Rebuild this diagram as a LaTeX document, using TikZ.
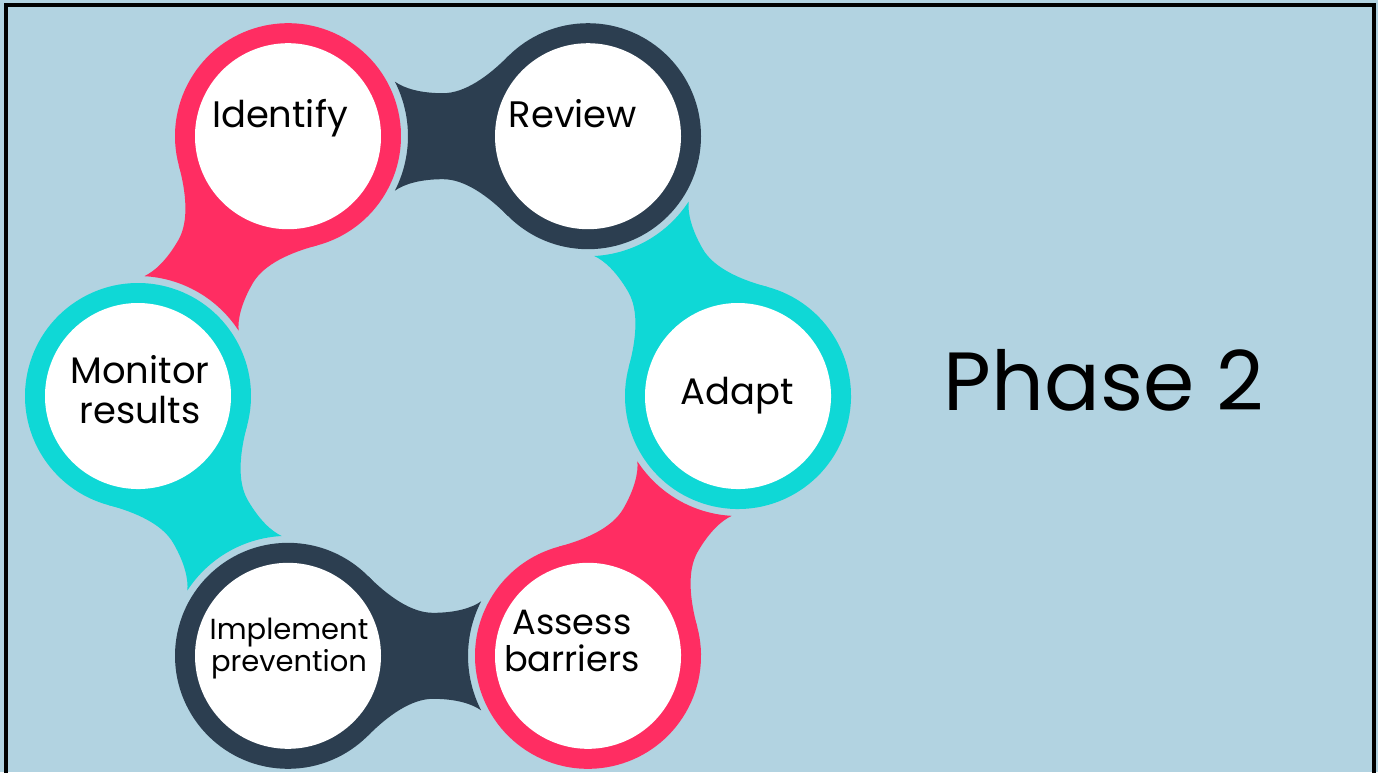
\documentclass[tikz,border=0pt]{standalone}
\usepackage{fontspec}
\setmainfont{Poppins}
\usepackage{tikz}
\definecolor{bgblue}{HTML}{B2D3E1}
\definecolor{ringred}{HTML}{FF2D62}
\definecolor{ringnavy}{HTML}{2C3E50}
\definecolor{ringcyan}{HTML}{0FD8D6}

\begin{document}
\begin{tikzpicture}[x=0.02cm,y=-0.02cm,
		steplabel/.style={font=\fontsize{21}{22.7}\selectfont,align=center,anchor=base,inner sep=0pt},
		smalllabel/.style={steplabel,font=\fontsize{16.5}{16.4}\selectfont}]
		\useasboundingbox (0,0) rectangle (1378,772);
		\fill[bgblue] (0,0) rectangle (1378,772);
		\begin{scope}
			\clip (0,0) rectangle (1378,772);
			\draw[line width=1.9pt] (6,790)--(6,5)--(1374,5)--(1374,790);
		\end{scope}
		% rings with tails
		\foreach \a/\col in {0/ringcyan,60/ringnavy,120/ringred,180/ringcyan,240/ringnavy,300/ringred}
		{
			\begin{scope}[shift={({438+300*cos(\a)},{396-300*sin(\a)})},rotate=\a+120]
				\fill[\col] (0,0)--(79.9,79.9) .. controls (99.7,60.1) and (123,43) .. (145,43)
					.. controls (168,43) and (184,48) .. (193.1,54.5)
					arc[start angle=153,end angle=207,radius=120]
					.. controls (184,-48) and (168,-43) .. (145,-43)
					.. controls (123,-43) and (99.7,-60.1) .. (79.9,-79.9)--cycle;
				\fill[\col] (0,0) circle[radius=113];
				\fill[white] (0,0) circle[radius=93];
			\end{scope}
		}
		% labels (base = last line)
		\node[steplabel] (identify) at (280,127) {Identify};
		\node[steplabel] (review) at (573,127) {Review};
		\node[steplabel] (adapt) at (737,404) {Adapt};
		\node[steplabel,font=\fontsize{20}{20.6}\selectfont] (assess) at (572,671) {Assess\\barriers};
		\node[smalllabel] (implement) at (289,671) {Implement\\prevention};
		\node[steplabel] (monitor) at (140,423) {Monitor\\results};
		\node[font=\fontsize{47}{56}\selectfont,anchor=base,inner sep=0pt] (phase) at (1104,410) {Phase 2};
	\end{tikzpicture}
\end{document}
